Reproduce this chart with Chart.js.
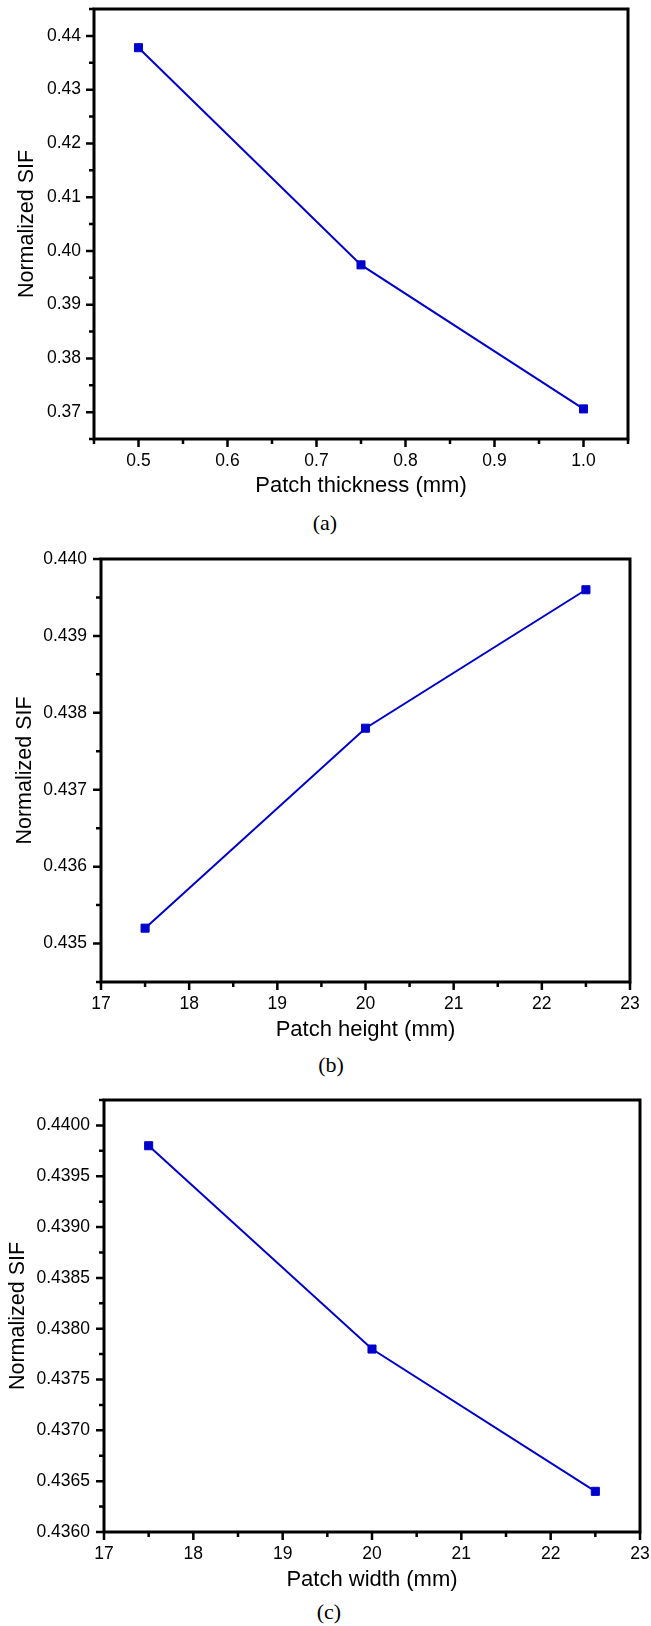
<!DOCTYPE html>
<html>
<head>
<meta charset="utf-8">
<script src="https://cdn.jsdelivr.net/npm/chart.js@4.4.0/dist/chart.umd.min.js"></script>
<style>
  body { margin: 0; background: #fff; }
  #wrap { position: relative; width: 651px; height: 1626px; background: #fff; }
  canvas { position: absolute; left: 0; }
  .cap { position: absolute; font-family: "Liberation Serif", serif; font-size: 22px; line-height: 26px; width: 40px; text-align: center; color: #000; }
</style>
</head>
<body>
<div id="wrap">
  <canvas id="chartA" width="651" height="501" style="top:0px"></canvas>
  <div class="cap" style="left:305px; top:510px">(a)</div>
  <canvas id="chartB" width="651" height="505" style="top:540px"></canvas>
  <div class="cap" style="left:311px; top:1052px">(b)</div>
  <canvas id="chartC" width="651" height="515" style="top:1080px"></canvas>
  <div class="cap" style="left:309px; top:1599px">(c)</div>
</div>
<script>
// (a) patch thickness
const thicknessMm = [0.5, 0.75, 1.0];
const sifThickness = [0.4378, 0.3974, 0.3706];
const thicknessTicks = [0.5, 0.6, 0.7, 0.8, 0.9, 1.0];
const sifTicksA = [0.37, 0.38, 0.39, 0.40, 0.41, 0.42, 0.43, 0.44];

// (b) patch height
const heightMm = [17.5, 20, 22.5];
const sifHeight = [0.4352, 0.4378, 0.4396];
const mmTicks = [17, 18, 19, 20, 21, 22, 23];
const sifTicksB = [0.435, 0.436, 0.437, 0.438, 0.439, 0.440];

// (c) patch width
const widthMm = [17.5, 20, 22.5];
const sifWidth = [0.4398, 0.4378, 0.4364];
const sifTicksC = [0.4360, 0.4365, 0.4370, 0.4375, 0.4380, 0.4385, 0.4390, 0.4395, 0.4400];

const BLUE = "#0000cc";
const SANS = "'Liberation Sans', Arial, sans-serif";

// frame + outward major/minor ticks, placed through the chart's scales
const frameTicks = {
  id: "frameTicks",
  afterDraw(chart, args, opts) {
    const { ctx, chartArea: a } = chart;
    const xs = chart.scales.x, ys = chart.scales.y;
    ctx.save();
    ctx.strokeStyle = "#000";
    ctx.lineWidth = 2.5;
    ctx.lineCap = "butt";
    const tickSet = (scale, step) => {
      const out = [];
      const n = Math.round((scale.max - scale.min) / step);
      for (let i = 0; i <= n; i++) {
        const v = scale.min + i * step;
        const major = scale.ticks.some(t => Math.abs(t.value - v) < step / 10);
        out.push({ px: scale.getPixelForValue(v), len: major ? 7 : 4 });
      }
      return out;
    };
    ctx.beginPath();
    tickSet(xs, opts.xMinor).forEach(t => {
      ctx.moveTo(t.px, a.bottom);
      ctx.lineTo(t.px, a.bottom + t.len + 1);
    });
    tickSet(ys, opts.yMinor).forEach(t => {
      ctx.moveTo(a.left, t.px);
      ctx.lineTo(a.left - t.len - 1, t.px);
    });
    ctx.stroke();
    ctx.lineWidth = 3;
    ctx.strokeRect(a.left, a.top, a.width, a.height);
    ctx.restore();
  }
};

function makeChart(id, cfg) {
  const pts = cfg.xs.map((x, i) => ({ x: x, y: cfg.ys[i] }));
  new Chart(document.getElementById(id), {
    type: "line",
    data: {
      datasets: [{
        data: pts,
        borderColor: BLUE,
        borderWidth: 2,
        pointStyle: "rect",
        pointRadius: 5.7,
        pointBorderWidth: 1,
        pointBackgroundColor: BLUE,
        pointBorderColor: BLUE,
        tension: 0
      }]
    },
    options: {
      responsive: false,
      animation: false,
      layout: { padding: { top: cfg.padTop, right: cfg.padRight, left: 0, bottom: 0 } },
      plugins: {
        legend: { display: false },
        tooltip: { enabled: false },
        frameTicks: { xMinor: cfg.xMinor, yMinor: cfg.yMinor }
      },
      scales: {
        x: {
          type: "linear",
          min: cfg.xMin, max: cfg.xMax,
          grid: { display: false, drawTicks: false },
          border: { display: false },
          afterBuildTicks: s => { s.ticks = cfg.xTicks.map(v => ({ value: v })); },
          afterFit: s => { s.height = cfg.xHeight; s.paddingLeft = 0; s.paddingRight = 0; },
          ticks: {
            padding: 12,
            color: "#000",
            font: { family: SANS, size: 17.5 },
            maxRotation: 0,
            autoSkip: false,
            callback: v => cfg.xFmt(v)
          },
          title: {
            display: true,
            text: cfg.xTitle,
            color: "#000",
            font: { family: SANS, size: 22 },
            padding: { top: 0, bottom: 2 }
          }
        },
        y: {
          type: "linear",
          min: cfg.yMin, max: cfg.yMax,
          grid: { display: false, drawTicks: false },
          border: { display: false },
          afterBuildTicks: s => { s.ticks = cfg.yTicks.map(v => ({ value: v })); },
          afterFit: s => { s.width = cfg.yWidth; s.paddingTop = 0; s.paddingBottom = 0; },
          ticks: {
            padding: cfg.yTickPad,
            color: "#000",
            font: { family: SANS, size: 17.5 },
            autoSkip: false,
            callback: v => v.toFixed(cfg.yDec)
          },
          title: {
            display: true,
            text: "Normalized SIF",
            color: "#000",
            font: { family: SANS, size: 21.5 },
            padding: { top: cfg.yTitlePad, bottom: 0 }
          }
        }
      }
    },
    plugins: [frameTicks]
  });
}

makeChart("chartA", {
  xs: thicknessMm, ys: sifThickness,
  xMin: 0.45, xMax: 1.05, xTicks: thicknessTicks, xMinor: 0.05, xFmt: v => v.toFixed(1),
  yMin: 0.365, yMax: 0.445, yTicks: sifTicksA, yMinor: 0.005, yDec: 2,
  xTitle: "Patch thickness (mm)",
  padTop: 9, padRight: 23, yWidth: 94, xHeight: 62, yTitlePad: 14, yTickPad: 13
});

makeChart("chartB", {
  xs: heightMm, ys: sifHeight,
  xMin: 17, xMax: 23, xTicks: mmTicks, xMinor: 0.5, xFmt: v => String(v),
  yMin: 0.4345, yMax: 0.440, yTicks: sifTicksB, yMinor: 0.0005, yDec: 3,
  xTitle: "Patch height (mm)",
  padTop: 19, padRight: 21, yWidth: 101, xHeight: 63, yTitlePad: 12, yTickPad: 14
});

makeChart("chartC", {
  xs: widthMm, ys: sifWidth,
  xMin: 17, xMax: 23, xTicks: mmTicks, xMinor: 0.5, xFmt: v => String(v),
  yMin: 0.436, yMax: 0.44025, yTicks: sifTicksC, yMinor: 0.00025, yDec: 4,
  xTitle: "Patch width (mm)",
  padTop: 20, padRight: 11, yWidth: 104, xHeight: 63, yTitlePad: 5, yTickPad: 14
});
</script>
</body>
</html>
